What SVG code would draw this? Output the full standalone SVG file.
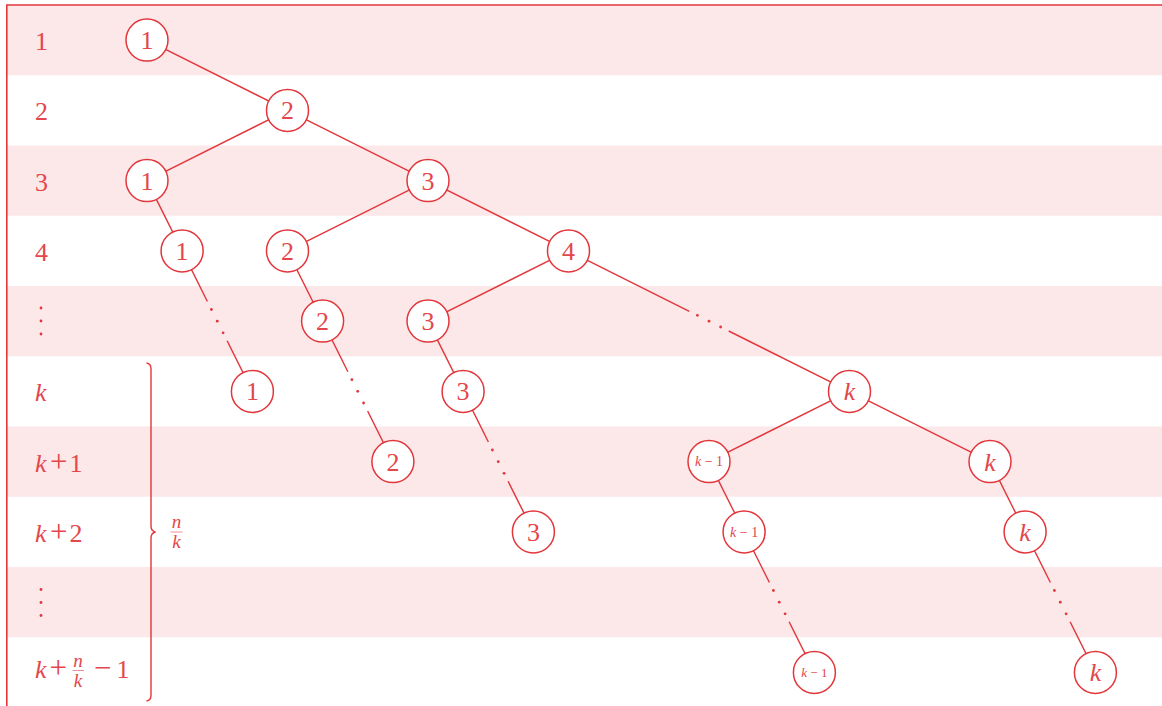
<svg xmlns="http://www.w3.org/2000/svg" width="1162" height="706" viewBox="0 0 1162 706">
<style>
.band{fill:#fce8e9}
.frame{stroke:#e2363b;stroke-width:1.6;fill:none}
.edge{stroke:#e2363b;stroke-width:1.4;fill:none}
.dot{fill:#e2363b}
.node circle{fill:#fff;stroke:#e2363b;stroke-width:1.5}
.t{font-family:"Liberation Serif",serif;fill:#e3464b}
.n{font-size:26px;text-anchor:middle}
.s{font-size:14px;text-anchor:middle}
.lab{font-size:26px}
.op{font-size:31px}
.fr{font-size:19px;text-anchor:middle;font-style:italic}
.i{font-style:italic}
</style>
<g id="background">
<rect class="band" x="7" y="5" width="1155" height="70.25"/>
<rect class="band" x="7" y="145.5" width="1155" height="70.25"/>
<rect class="band" x="7" y="286" width="1155" height="70.25"/>
<rect class="band" x="7" y="426.5" width="1155" height="70.25"/>
<rect class="band" x="7" y="567" width="1155" height="70.25"/>
<path class="frame" d="M6.8,706 L6.8,5 L1162,5"/>
</g>
<g id="row-labels" class="t">
<text class="lab" x="35" y="50">1</text>
<text class="lab" x="35" y="120.4">2</text>
<text class="lab" x="35" y="190.6">3</text>
<text class="lab" x="35" y="260.9">4</text>
<circle class="dot" cx="41" cy="308" r="1.4"/><circle class="dot" cx="41" cy="321" r="1.4"/><circle class="dot" cx="41" cy="334" r="1.4"/>
<text class="lab i" x="35" y="401.4">k</text>
<text class="lab" y="471.6"><tspan class="i" x="35">k</tspan><tspan class="op" x="50">+</tspan><tspan x="69.5">1</tspan></text>
<text class="lab" y="541.9"><tspan class="i" x="35">k</tspan><tspan class="op" x="50">+</tspan><tspan x="69.5">2</tspan></text>
<circle class="dot" cx="41" cy="589.5" r="1.4"/><circle class="dot" cx="41" cy="602.5" r="1.4"/><circle class="dot" cx="41" cy="615.5" r="1.4"/>
<text class="lab" y="678"><tspan class="i" x="35">k</tspan><tspan class="op" x="49.5">+</tspan><tspan class="op" x="94">−</tspan><tspan x="116.5">1</tspan></text>
<text class="fr" x="78" y="667">n</text>
<line x1="72.5" y1="670.5" x2="84" y2="670.5" stroke="#e3464b" stroke-width="0.6"/>
<text class="fr" x="78" y="686.5">k</text>
</g>
<g id="brace">
<path class="edge" d="M146.5,363 Q151,363.5 151,369 L151,526 Q151,531 155.5,532 Q151,533 151,538 L151,695 Q151,700.5 146.5,701"/>
<text class="t fr" x="176.5" y="528">n</text>
<line x1="170.5" y1="532" x2="182.5" y2="532" stroke="#e3464b" stroke-width="0.6"/>
<text class="t fr" x="176.5" y="547.5">k</text>
</g>
<g id="connectors">
<line class="edge" x1="147" y1="40.1" x2="287.5" y2="110.4"/>
<line class="edge" x1="287.5" y1="110.4" x2="147" y2="180.6"/>
<line class="edge" x1="287.5" y1="110.4" x2="428" y2="180.6"/>
<line class="edge" x1="147" y1="180.6" x2="182.1" y2="250.9"/>
<line class="edge" x1="428" y1="180.6" x2="287.5" y2="250.9"/>
<line class="edge" x1="428" y1="180.6" x2="568.5" y2="250.9"/>
<line class="edge" x1="287.5" y1="250.9" x2="322.6" y2="321.1"/>
<line class="edge" x1="568.5" y1="250.9" x2="428" y2="321.1"/>
<line class="edge" x1="428" y1="321.1" x2="463.1" y2="391.4"/>
<line class="edge" x1="849.5" y1="391.4" x2="709" y2="461.6"/>
<line class="edge" x1="849.5" y1="391.4" x2="990" y2="461.6"/>
<line class="edge" x1="709" y1="461.6" x2="744.1" y2="531.9"/>
<line class="edge" x1="990" y1="461.6" x2="1025.1" y2="531.9"/>
<line class="edge" x1="182.1" y1="250.9" x2="207.4" y2="301.5"/><line class="edge" x1="227.1" y1="340.8" x2="252.4" y2="391.4"/>
<circle class="dot" cx="211.4" cy="309.5" r="1.4"/><circle class="dot" cx="217.25" cy="321.15" r="1.4"/><circle class="dot" cx="223.1" cy="332.8" r="1.4"/>
<line class="edge" x1="322.6" y1="321.1" x2="347.9" y2="371.7"/><line class="edge" x1="367.6" y1="411" x2="392.9" y2="461.6"/>
<circle class="dot" cx="351.9" cy="379.7" r="1.4"/><circle class="dot" cx="357.75" cy="391.35" r="1.4"/><circle class="dot" cx="363.6" cy="403" r="1.4"/>
<line class="edge" x1="463.1" y1="391.4" x2="488.4" y2="442"/><line class="edge" x1="508.1" y1="481.3" x2="533.4" y2="531.9"/>
<circle class="dot" cx="492.4" cy="450" r="1.4"/><circle class="dot" cx="498.25" cy="461.65" r="1.4"/><circle class="dot" cx="504.1" cy="473.3" r="1.4"/>
<line class="edge" x1="744.1" y1="531.9" x2="769.4" y2="582.5"/><line class="edge" x1="789.1" y1="621.8" x2="814.4" y2="672.4"/>
<circle class="dot" cx="773.4" cy="590.5" r="1.4"/><circle class="dot" cx="779.25" cy="602.15" r="1.4"/><circle class="dot" cx="785.1" cy="613.8" r="1.4"/>
<line class="edge" x1="1025.1" y1="531.9" x2="1050.4" y2="582.5"/><line class="edge" x1="1070.1" y1="621.8" x2="1095.4" y2="672.4"/>
<circle class="dot" cx="1054.4" cy="590.5" r="1.4"/><circle class="dot" cx="1060.25" cy="602.15" r="1.4"/><circle class="dot" cx="1066.1" cy="613.8" r="1.4"/>
<line class="edge" x1="568.5" y1="250.9" x2="689.3" y2="311.3"/><line class="edge" x1="728.7" y1="331" x2="849.5" y2="391.4"/>
<circle class="dot" cx="697.4" cy="315.3" r="1.4"/><circle class="dot" cx="709" cy="321.15" r="1.4"/><circle class="dot" cx="720.6" cy="327" r="1.4"/>
</g>
<g id="n-r1-1" class="node"><circle cx="147" cy="40.1" r="21"/><text class="t n" x="147" y="49.1">1</text></g>
<g id="n-r2-2" class="node"><circle cx="287.5" cy="110.4" r="21"/><text class="t n" x="287.5" y="119.4">2</text></g>
<g id="n-r3-1" class="node"><circle cx="147" cy="180.6" r="21"/><text class="t n" x="147" y="189.6">1</text></g>
<g id="n-r3-3" class="node"><circle cx="428" cy="180.6" r="21"/><text class="t n" x="428" y="189.6">3</text></g>
<g id="n-r4-1" class="node"><circle cx="182.1" cy="250.9" r="21"/><text class="t n" x="182.1" y="259.9">1</text></g>
<g id="n-r4-2" class="node"><circle cx="287.5" cy="250.9" r="21"/><text class="t n" x="287.5" y="259.9">2</text></g>
<g id="n-r4-4" class="node"><circle cx="568.5" cy="250.9" r="21"/><text class="t n" x="568.5" y="259.9">4</text></g>
<g id="n-r5-2" class="node"><circle cx="322.6" cy="321.1" r="21"/><text class="t n" x="322.6" y="330.1">2</text></g>
<g id="n-r5-3" class="node"><circle cx="428" cy="321.1" r="21"/><text class="t n" x="428" y="330.1">3</text></g>
<g id="n-r6-1" class="node"><circle cx="252.4" cy="391.4" r="21"/><text class="t n" x="252.4" y="400.4">1</text></g>
<g id="n-r6-3" class="node"><circle cx="463.1" cy="391.4" r="21"/><text class="t n" x="463.1" y="400.4">3</text></g>
<g id="n-r6-k" class="node"><circle cx="849.5" cy="391.4" r="21"/><text class="t n i" x="849.5" y="400.4">k</text></g>
<g id="n-r7-2" class="node"><circle cx="392.9" cy="461.6" r="21"/><text class="t n" x="392.9" y="470.6">2</text></g>
<g id="n-r7-km1" class="node"><circle cx="709" cy="461.6" r="21"/><text class="t s" x="709" y="466.3"><tspan class="i">k</tspan> − 1</text></g>
<g id="n-r7-k" class="node"><circle cx="990" cy="461.6" r="21"/><text class="t n i" x="990" y="470.6">k</text></g>
<g id="n-r8-3" class="node"><circle cx="533.4" cy="531.9" r="21"/><text class="t n" x="533.4" y="540.9">3</text></g>
<g id="n-r8-km1" class="node"><circle cx="744.1" cy="531.9" r="21"/><text class="t s" x="744.1" y="536.6"><tspan class="i">k</tspan> − 1</text></g>
<g id="n-r8-k" class="node"><circle cx="1025.1" cy="531.9" r="21"/><text class="t n i" x="1025.1" y="540.9">k</text></g>
<g id="n-r10-km1" class="node"><circle cx="814.4" cy="672.4" r="21"/><text class="t s" x="814.4" y="676.8" style="font-size:13px"><tspan class="i">k</tspan> − 1</text></g>
<g id="n-r10-k" class="node"><circle cx="1095.4" cy="672.4" r="21"/><text class="t n i" x="1095.4" y="681.4">k</text></g>
</svg>
